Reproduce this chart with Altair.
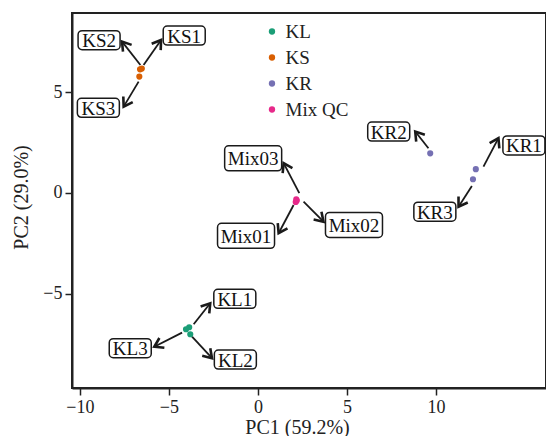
import math
import altair as alt
import pandas as pd

samples = ["KL1", "KL2", "KL3", "KS1", "KS2", "KS3", "KR1", "KR2", "KR3", "Mix01", "Mix02", "Mix03"]
groups = ["KL"] * 3 + ["KS"] * 3 + ["KR"] * 3 + ["Mix QC"] * 3
pc1 = [-3.86, -3.80, -4.04, -6.52, -6.62, -6.66, 12.23, 9.67, 12.07, 2.12, 2.18, 2.15]
pc2 = [-6.67, -7.02, -6.77, 6.18, 6.14, 5.78, 1.18, 1.97, 0.68, -0.45, -0.38, -0.32]
label_x = [-1.30, -1.27, -7.17, -4.14, -8.92, -8.96, 14.93, 7.34, 9.93, -0.67, 5.39, -0.27]
label_y = [-5.26, -8.28, -7.71, 7.82, 7.59, 4.23, 2.36, 3.05, -0.93, -2.13, -1.59, 1.72]
arrow_x0 = [-3.61, -3.70, -4.26, -6.42, -6.60, -6.70, 12.66, 9.57, 12.01, 2.00, 2.56, 2.32]
arrow_y0 = [-6.52, -7.14, -6.94, 6.36, 6.36, 5.53, 1.31, 2.22, 0.35, -0.60, -0.43, -0.01]
arrow_x1 = [-2.68, -2.58, -5.82, -5.44, -7.63, -7.54, 13.50, 8.83, 11.26, 1.16, 3.68, 1.44]
arrow_y1 = [-5.48, -8.21, -7.64, 7.60, 7.52, 4.29, 2.72, 3.05, -0.68, -2.00, -1.43, 1.48]

group_order = ["KL", "KS", "KR", "Mix QC"]
group_colors = ["#1b9e77", "#d95f02", "#7570b3", "#e7298a"]
x_ticks = [-10, -5, 0, 5, 10]
y_ticks = [-5, 0, 5]
x_domain = [-10.44, 16.17]
y_domain = [-9.69, 8.94]

W, H = 474, 375
sx = W / (x_domain[1] - x_domain[0])
sy = H / (y_domain[1] - y_domain[0])

angles = [
    math.degrees(math.atan2((x1 - x0) * sx, (y1 - y0) * sy)) % 360
    for x0, y0, x1, y1 in zip(arrow_x0, arrow_y0, arrow_x1, arrow_y1)
]

df = pd.DataFrame({
    "sample": samples, "group": groups, "pc1": pc1, "pc2": pc2,
    "lx": label_x, "ly": label_y,
    "ax0": arrow_x0, "ay0": arrow_y0, "ax1": arrow_x1, "ay1": arrow_y1,
    "angle": angles,
    "kind": ["short" if not s.startswith("Mix") else "long" for s in samples],
})

FONT = "Liberation Serif"
xs = alt.Scale(domain=x_domain, nice=False, zero=False)
ys = alt.Scale(domain=y_domain, nice=False, zero=False)

base = alt.Chart(df)

x_axis = alt.Axis(values=x_ticks, title="PC1 (59.2%)", titleX=225, titleY=39,
                  titleBaseline="middle")
y_axis = alt.Axis(values=y_ticks, title="PC2 (29.0%)", titleX=-51, titleY=184,
                  titleBaseline="middle", titleAngle=-90)

shafts = base.mark_rule(color="#1a1a1a", strokeWidth=1.8).encode(
    x=alt.X("ax0:Q", scale=xs, axis=x_axis),
    y=alt.Y("ay0:Q", scale=ys, axis=y_axis),
    x2="ax1:Q", y2="ay1:Q",
)

heads = base.mark_point(
    shape="M-0.55,0.85L0,0L0.55,0.85", size=400, filled=False,
    stroke="#1a1a1a", strokeWidth=2.6, opacity=1, strokeJoin="miter",
).encode(
    x=alt.X("ax1:Q", scale=xs), y=alt.Y("ay1:Q", scale=ys),
    angle=alt.Angle("angle:Q", scale=None),
)

box_short = base.transform_filter(alt.datum.kind == "short").mark_rect(
    xOffset=-21, x2Offset=21, yOffset=-9.5, y2Offset=9.5, cornerRadius=4,
    fill="white", stroke="#1a1a1a", strokeWidth=1.5,
).encode(x=alt.X("lx:Q", scale=xs), x2="lx:Q", y=alt.Y("ly:Q", scale=ys), y2="ly:Q")

box_long = base.transform_filter(alt.datum.kind == "long").mark_rect(
    xOffset=-28.5, x2Offset=28.5, yOffset=-12.5, y2Offset=12.5, cornerRadius=4,
    fill="white", stroke="#1a1a1a", strokeWidth=1.5,
).encode(x=alt.X("lx:Q", scale=xs), x2="lx:Q", y=alt.Y("ly:Q", scale=ys), y2="ly:Q")

labels = base.mark_text(font=FONT, fontSize=19, color="#111", baseline="middle", dy=1).encode(
    x=alt.X("lx:Q", scale=xs), y=alt.Y("ly:Q", scale=ys), text="sample:N",
)

points = base.mark_circle(size=38, opacity=1).encode(
    x=alt.X("pc1:Q", scale=xs), y=alt.Y("pc2:Q", scale=ys),
    color=alt.Color("group:N", scale=alt.Scale(domain=group_order, range=group_colors),
                    legend=alt.Legend(title=None, orient="none", legendX=190.5, legendY=9)),
)

chart = alt.layer(shafts, heads, box_short, box_long, labels, points).properties(
    width=W, height=H,
    autosize=alt.AutoSizeParams(type="none"),
    padding={"left": 64, "top": 5, "right": 0, "bottom": 48},
).configure_view(
    stroke="#222", strokeWidth=2,
).configure_axis(
    grid=False, labelFont=FONT, labelFontSize=18, labelColor="#222",
    titleFont=FONT, titleFontSize=20, titleFontWeight="normal", titleColor="#222",
    tickColor="#222", tickWidth=1.5, tickSize=7, domainColor="#222", domainWidth=2,
    labelPadding=3,
).configure_legend(
    labelFont=FONT, labelFontSize=19, labelColor="#222", symbolType="circle",
    symbolSize=40, symbolStrokeWidth=0, rowPadding=6, labelOffset=4, padding=0,
)

chart.save("out.html", embed_options={"renderer": "svg", "actions": False})
